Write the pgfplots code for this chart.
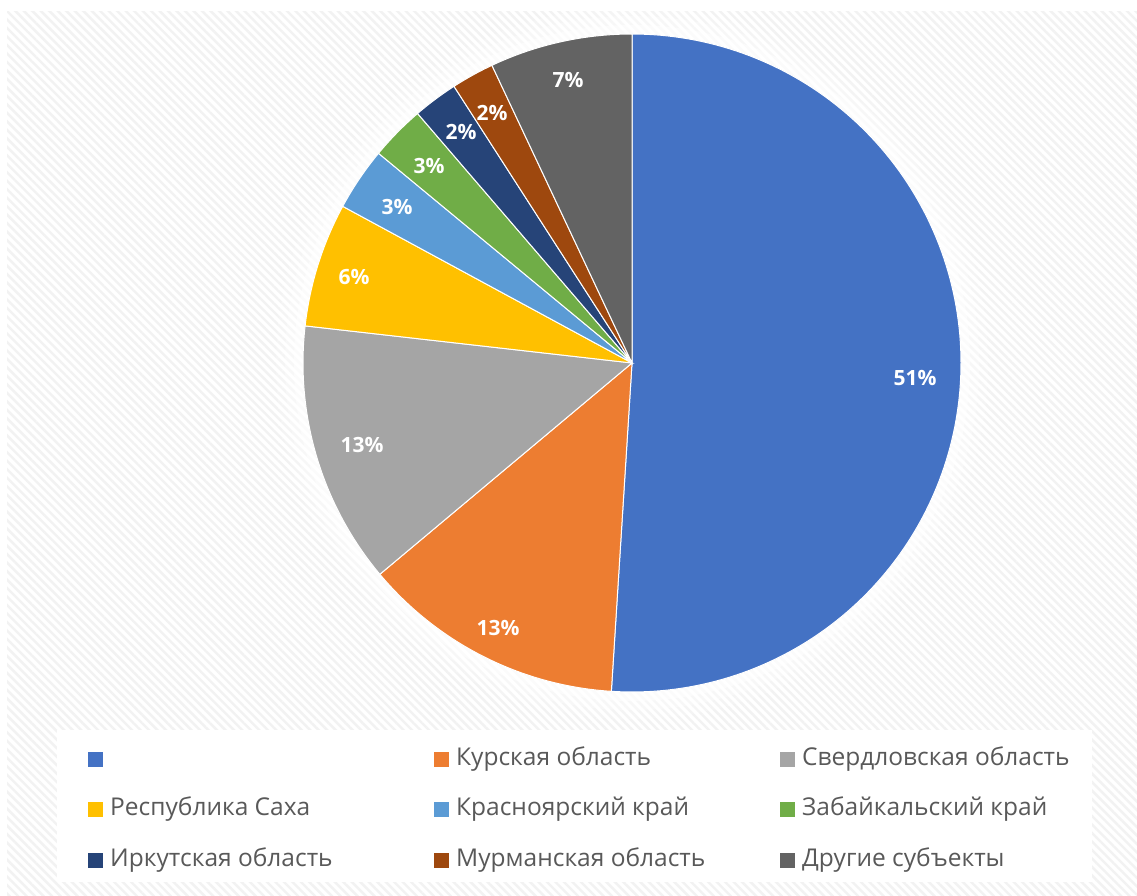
\documentclass[border=0pt]{standalone}
\usepackage{pgfplots}
\pgfplotsset{compat=1.18}
\usepackage{fontspec}
\setmainfont{Open Sans}
\usetikzlibrary{patterns.meta}
\definecolor{cBlue}{HTML}{4472C4}
\definecolor{cOrange}{HTML}{ED7D31}
\definecolor{cGray}{HTML}{A5A5A5}
\definecolor{cYellow}{HTML}{FFC000}
\definecolor{cLBlue}{HTML}{5B9BD5}
\definecolor{cGreen}{HTML}{70AD47}
\definecolor{cDBlue}{HTML}{264478}
\definecolor{cBrown}{HTML}{9E480E}
\definecolor{cDGray}{HTML}{636363}
\definecolor{cText}{HTML}{595959}
\newcommand\legtxt[1]{\makebox[331pt][l]{\hspace{7pt}#1}}
\tikzset{pct/.style={font=\fontsize{21}{25}\selectfont\bfseries, text=white, inner sep=0pt}}
\begin{document}
\begin{tikzpicture}
\begin{axis}[
  scale only axis, width=1137pt, height=895pt,
  xmin=0, xmax=1137, ymin=0, ymax=895,
  hide axis, clip=false,
  legend columns=3,
  legend style={at={(axis cs:88,85)}, anchor=west, draw=none, fill=none,
    inner sep=0pt, row sep=31.5pt, font=\fontsize{24.5}{28}\selectfont, text=cText,
    nodes={inner sep=0pt, text height=15pt, text depth=4pt}},
  legend cell align=left,
  legend image code/.code={\path[#1, draw=none] (0pt,-7pt) rectangle (15pt,8pt);},
]
% background
\fill[white] (axis cs:0,0) rectangle (axis cs:1137,895);
\fill[pattern={Lines[angle=-45, distance=6pt, line width=2.4pt]}, pattern color=black!5]
  (axis cs:7,0) rectangle (axis cs:1137,883);
\fill[white, opacity=0.2] (axis cs:632,532) circle[radius=356pt];
\fill[white, opacity=0.3] (axis cs:632,532) circle[radius=347pt];
\fill[white, opacity=0.5] (axis cs:632,532) circle[radius=338pt];
\fill[white] (axis cs:57,13) rectangle (axis cs:1092,165);
% slices (domain in percent, clockwise from top)
\addplot[fill=cBlue, draw=white, line width=1pt, domain=0:51.0, samples=150]
  ({632+329*sin(3.6*x)}, {532+329*cos(3.6*x)}) -- (axis cs:632,532) -- cycle;
\addlegendentry{\legtxt{}}
\addplot[fill=cOrange, draw=white, line width=1pt, domain=51.0:63.9, samples=50]
  ({632+329*sin(3.6*x)}, {532+329*cos(3.6*x)}) -- (axis cs:632,532) -- cycle;
\addlegendentry{\legtxt{Курская область}}
\addplot[fill=cGray, draw=white, line width=1pt, domain=63.9:76.8, samples=50]
  ({632+329*sin(3.6*x)}, {532+329*cos(3.6*x)}) -- (axis cs:632,532) -- cycle;
\addlegendentry{\legtxt{Свердловская область}}
\addplot[fill=cYellow, draw=white, line width=1pt, domain=76.8:82.9, samples=30]
  ({632+329*sin(3.6*x)}, {532+329*cos(3.6*x)}) -- (axis cs:632,532) -- cycle;
\addlegendentry{\legtxt{Республика Саха}}
\addplot[fill=cLBlue, draw=white, line width=1pt, domain=82.9:86.0, samples=20]
  ({632+329*sin(3.6*x)}, {532+329*cos(3.6*x)}) -- (axis cs:632,532) -- cycle;
\addlegendentry{\legtxt{Красноярский край}}
\addplot[fill=cGreen, draw=white, line width=1pt, domain=86.0:88.7, samples=20]
  ({632+329*sin(3.6*x)}, {532+329*cos(3.6*x)}) -- (axis cs:632,532) -- cycle;
\addlegendentry{\legtxt{Забайкальский край}}
\addplot[fill=cDBlue, draw=white, line width=1pt, domain=88.7:90.9, samples=20]
  ({632+329*sin(3.6*x)}, {532+329*cos(3.6*x)}) -- (axis cs:632,532) -- cycle;
\addlegendentry{\legtxt{Иркутская область}}
\addplot[fill=cBrown, draw=white, line width=1pt, domain=90.9:93.0, samples=20]
  ({632+329*sin(3.6*x)}, {532+329*cos(3.6*x)}) -- (axis cs:632,532) -- cycle;
\addlegendentry{\legtxt{Мурманская область}}
\addplot[fill=cDGray, draw=white, line width=1pt, domain=93.0:100, samples=40]
  ({632+329*sin(3.6*x)}, {532+329*cos(3.6*x)}) -- (axis cs:632,532) -- cycle;
\addlegendentry{\legtxt{Другие субъекты}}
% percentage labels
\node[pct] at (axis cs:915,517) {51\%};
\node[pct] at (axis cs:498,267) {13\%};
\node[pct] at (axis cs:362,450) {13\%};
\node[pct] at (axis cs:354,618) {6\%};
\node[pct] at (axis cs:397,688) {3\%};
\node[pct] at (axis cs:429,729) {3\%};
\node[pct] at (axis cs:461,763) {2\%};
\node[pct] at (axis cs:492,782) {2\%};
\node[pct] at (axis cs:568,815) {7\%};
\end{axis}
\end{tikzpicture}
\end{document}
